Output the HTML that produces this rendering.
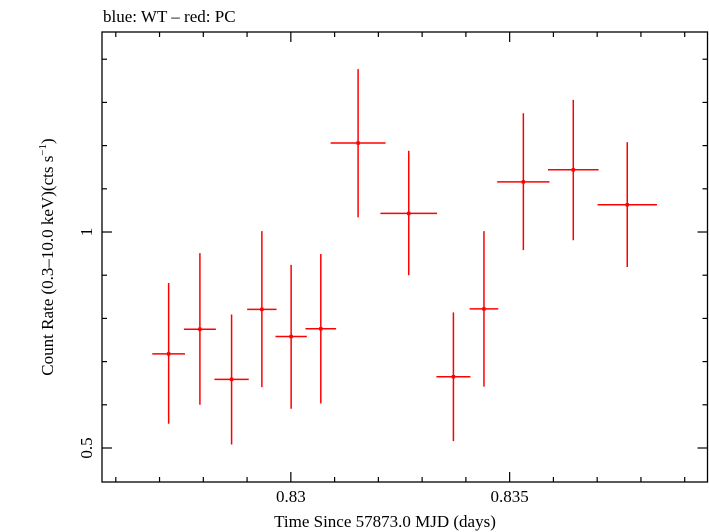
<!DOCTYPE html>
<html>
<head>
<meta charset="utf-8">
<style>
html,body{margin:0;padding:0;background:#fff;}
svg{display:block;}
text{font-family:"Liberation Serif",serif;fill:#000;}
</style>
</head>
<body>
<svg id="chart" width="709" height="532" viewBox="0 0 709 532" xmlns="http://www.w3.org/2000/svg">
  <text x="103" y="22" font-size="17">blue: WT – red: PC</text>
  <rect x="102" y="32" width="605.5" height="450" fill="none" stroke="#000" stroke-width="1.3"/>
  <g id="ticks"></g>
  <g id="marks"></g>
  <text x="385" y="527" font-size="17" text-anchor="middle">Time Since 57873.0 MJD (days)</text>
  <text transform="translate(53,257) rotate(-90)" font-size="17" text-anchor="middle">Count Rate (0.3–10.0 keV)(cts s<tspan font-size="11" dy="-7">−1</tspan><tspan dy="7">)</tspan></text>
</svg>
<script>
const xCenters = [0.827208,0.827922,0.828646,0.829338,0.830007,0.830685,0.831537,0.832694,0.833715,0.834413,0.835313,0.836454,0.837687];
const xHalfWidths = [0.000374,0.000365,0.000392,0.000336,0.000358,0.000350,0.000628,0.000647,0.000388,0.000327,0.000598,0.000578,0.000678];
const rates = [0.718,0.775,0.659,0.821,0.758,0.776,1.206,1.043,0.665,0.822,1.116,1.144,1.063];
const rateLow = [0.556,0.600,0.508,0.641,0.591,0.603,1.034,0.900,0.516,0.642,0.958,0.981,0.919];
const rateHigh = [0.882,0.951,0.809,1.002,0.924,0.949,1.377,1.188,0.814,1.002,1.275,1.306,1.208];
const xTickLabels = ["0.83","0.835"];
const xTickValues = [0.83,0.835];
const yTickLabels = ["0.5","1"];
const yTickValues = [0.5,1];

const X0=102, X1=707.5, Y0=482, Y1=32;
const xMin=0.825685, xMax=0.839521, yMin=0.4213, yMax=1.463;
const sx = v => X0 + (v - xMin) / (xMax - xMin) * (X1 - X0);
const sy = v => Y0 - (v - yMin) / (yMax - yMin) * (Y0 - Y1);
const NS = "http://www.w3.org/2000/svg";
function line(parent, x1, y1, x2, y2, color, w) {
  const l = document.createElementNS(NS, "line");
  l.setAttribute("x1", x1); l.setAttribute("y1", y1);
  l.setAttribute("x2", x2); l.setAttribute("y2", y2);
  l.setAttribute("stroke", color); l.setAttribute("stroke-width", w);
  parent.appendChild(l);
  return l;
}
const ticks = document.getElementById("ticks");
const svg = document.getElementById("chart");
// x minor ticks every 0.001
for (let k = 826; k <= 839; k++) {
  const v = k / 1000;
  const major = (k % 5 === 0);
  const len = major ? 10 : 5;
  const x = sx(v);
  const t1 = line(ticks, x, Y0, x, Y0 - len, "#000", 1.2);
  
  
  const t2 = line(ticks, x, Y1, x, Y1 + len, "#000", 1.2);
  
  
}
// y ticks every 0.1
for (let k = 5; k <= 14; k++) {
  const v = k / 10;
  const major = (k === 5 || k === 10);
  const len = major ? 10 : 5;
  const y = sy(v);
  const t1 = line(ticks, X0, y, X0 + len, y, "#000", 1.2);
  
  
  const t2 = line(ticks, X1, y, X1 - len, y, "#000", 1.2);
  
  
}
xTickValues.forEach((v, i) => {
  const t = document.createElementNS(NS, "text");
  
  
  t.setAttribute("x", sx(v)); t.setAttribute("y", 502);
  t.setAttribute("font-size", "17"); t.setAttribute("text-anchor", "middle");
  t.textContent = xTickLabels[i];
  svg.appendChild(t);
});
yTickValues.forEach((v, i) => {
  const t = document.createElementNS(NS, "text");
  
  
  t.setAttribute("transform", "translate(92," + sy(v) + ") rotate(-90)");
  t.setAttribute("font-size", "17"); t.setAttribute("text-anchor", "middle");
  t.textContent = yTickLabels[i];
  svg.appendChild(t);
});
const marks = document.getElementById("marks");
xCenters.forEach((xc, i) => {
  const g = document.createElementNS(NS, "g");
  
  
  const cx = sx(xc), cy = sy(rates[i]);
  line(g, sx(xc - xHalfWidths[i]), cy, sx(xc + xHalfWidths[i]), cy, "#f00", 1.5);
  line(g, cx, sy(rateLow[i]), cx, sy(rateHigh[i]), "#f00", 1.5);
  const r = document.createElementNS(NS, "rect");
  r.setAttribute("x", cx - 1.7); r.setAttribute("y", cy - 1.7);
  r.setAttribute("width", 3.4); r.setAttribute("height", 3.4);
  r.setAttribute("fill", "#f00");
  g.appendChild(r);
  marks.appendChild(g);
});
</script>
</body>
</html>
